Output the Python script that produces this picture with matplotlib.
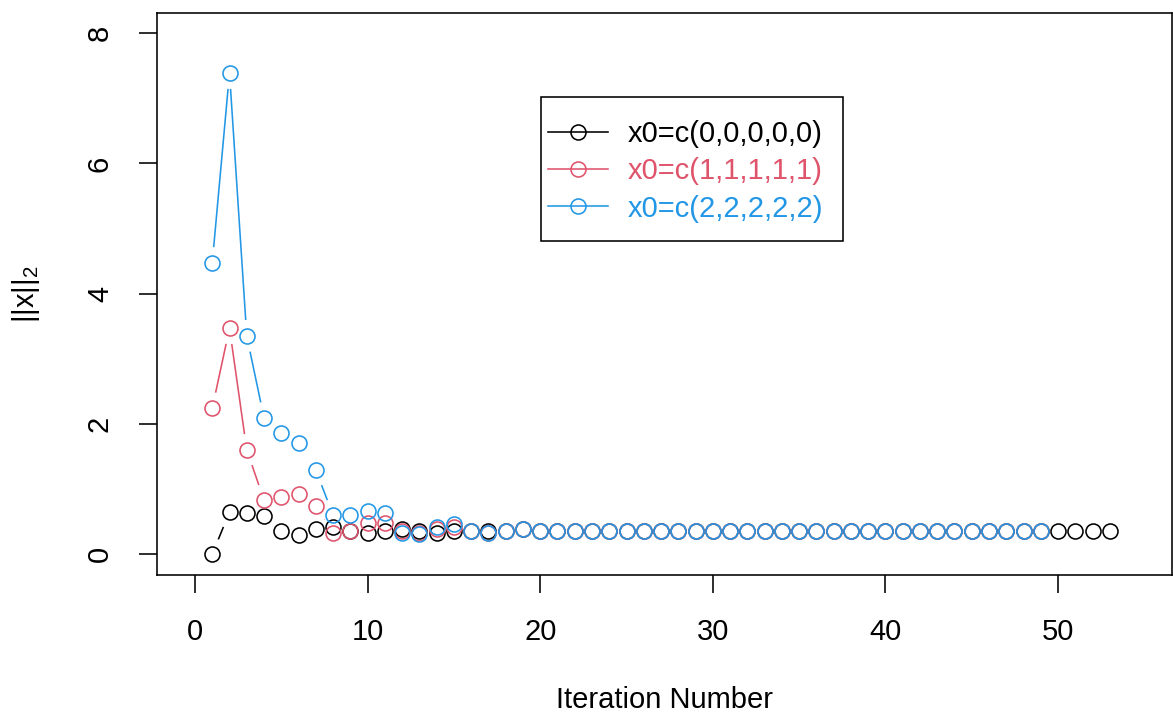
import matplotlib
matplotlib.use("Agg")
import matplotlib.pyplot as plt
from matplotlib.patches import Rectangle
from matplotlib.transforms import IdentityTransform
import numpy as np

plt.rcParams["font.family"] = ["Liberation Sans", "DejaVu Sans"]

# ||x||_2 per iteration for three starting points
norm_x0_0 = [0.00, 0.645, 0.63, 0.58, 0.35, 0.29, 0.38, 0.42, 0.36, 0.32,
             0.36, 0.38, 0.36, 0.33, 0.35, 0.36, 0.36, 0.36, 0.38] + [0.36] * 34
norm_x0_1 = [2.24, 3.47, 1.60, 0.83, 0.875, 0.92, 0.74, 0.32, 0.35, 0.48,
             0.48, 0.35, 0.33, 0.39, 0.42, 0.35, 0.33, 0.35, 0.38] + [0.36] * 30
norm_x0_2 = [4.47, 7.39, 3.35, 2.09, 1.86, 1.70, 1.29, 0.60, 0.60, 0.665,
             0.63, 0.33, 0.31, 0.42, 0.46, 0.35, 0.32, 0.35, 0.38] + [0.36] * 30

series_labels = ["x0=c(0,0,0,0,0)", "x0=c(1,1,1,1,1)", "x0=c(2,2,2,2,2)"]
series_colors = ["black", "#DF536B", "#2297E6"]

FS = 21
LW = 1.15
GAP_PX = 16  # R type="b": line stops short of each point


def draw_gapped(ax, xs, ys, color):
    pts = ax.transData.transform(np.column_stack([xs, ys]))
    inv = ax.transData.inverted()
    for p0, p1 in zip(pts[:-1], pts[1:]):
        d = p1 - p0
        length = np.hypot(*d)
        if length <= 2 * GAP_PX:
            continue
        u = d / length
        a = inv.transform(p0 + u * GAP_PX)
        b = inv.transform(p1 - u * GAP_PX)
        ax.plot([a[0], b[0]], [a[1], b[1]], color=color, lw=LW,
                solid_capstyle="butt")
    ax.plot(xs, ys, linestyle="none", marker="o", ms=10.8, mfc="none",
            mec=color, mew=LW)


fig = plt.figure(figsize=(11.73, 7.13), dpi=100)
ax = fig.add_axes([157 / 1173, 1 - 575 / 713, (1172 - 157) / 1173, (575 - 13) / 713])
ax.set_xlim(-2.2, 56.6)
ax.set_ylim(-0.32, 8.31)

for data, color in zip([norm_x0_0, norm_x0_1, norm_x0_2], series_colors):
    xs = np.arange(1, len(data) + 1)
    draw_gapped(ax, xs, np.array(data), color)

ax.set_xticks(range(0, 51, 10))
ax.set_yticks(range(0, 9, 2))
ax.tick_params(labelsize=FS, length=13, width=LW, direction="out", pad=18)
for lab in ax.get_yticklabels():
    lab.set_rotation(90)
    lab.set_va("center")
for s in ax.spines.values():
    s.set_linewidth(LW)

ax.set_xlabel("Iteration Number", fontsize=FS, labelpad=28.5)
ax.set_ylabel(r"$\mathregular{||x||_2}$", fontsize=FS, labelpad=32)

# legend: R-style box with extra vertical padding
handles = [plt.Line2D([], [], color=c, lw=LW, marker="o", ms=10.8, mfc="none",
                      mec=c, mew=LW) for c in series_colors]
leg = ax.legend(handles, series_labels, loc="upper left",
                bbox_to_anchor=(548 / 1173, 1 - 120 / 713), bbox_transform=fig.transFigure,
                fontsize=FS, frameon=False, labelcolor=series_colors,
                handlelength=2.05, handletextpad=0.68, borderpad=0,
                labelspacing=0.32, borderaxespad=0)
leg.set_zorder(5)
fig.canvas.draw()
bb = leg.get_window_extent()
x0, y0 = bb.x0 - 7, bb.y0 - 18
w, h = (bb.x1 + 20) - x0, (bb.y1 + 23) - y0
box = Rectangle((x0, y0), w, h, transform=IdentityTransform(), facecolor="white",
                edgecolor="black", lw=LW, zorder=4, clip_on=False)
ax.add_artist(box)

fig.savefig("out.png", dpi=100)
